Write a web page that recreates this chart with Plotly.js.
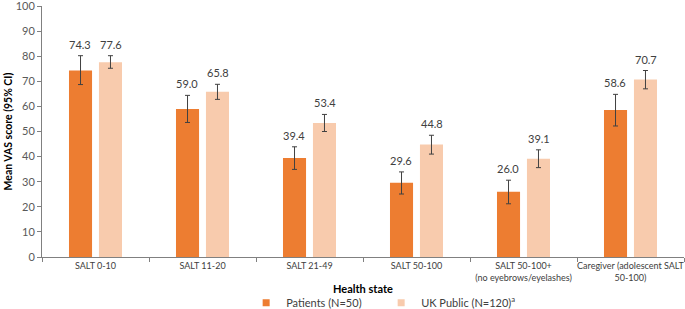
<!DOCTYPE html>
<html><head><meta charset="utf-8">
<script src="https://cdn.plot.ly/plotly-3.0.1.min.js"></script>
<style>body{margin:0;background:#fff}#c{width:685px;height:309px}</style>
</head><body><div id="c"></div>
<script>
const categories = ["SALT 0-10","SALT 11-20","SALT 21-49","SALT 50-100","SALT 50-100+<br>(no eyebrows/eyelashes)","Caregiver (adolescent SALT<br>50-100)"];
const patients = [74.3, 59.0, 39.4, 29.6, 26.0, 58.6];
const patientsPlus = [5.9, 5.4, 4.5, 4.3, 4.6, 6.2];
const patientsMinus = [5.6, 5.4, 4.5, 4.5, 4.8, 6.4];
const publicVals = [77.6, 65.8, 53.4, 44.8, 39.1, 70.7];
const publicPlus = [2.6, 3.0, 3.4, 3.7, 3.6, 3.6];
const publicMinus = [2.4, 3.0, 3.4, 3.8, 3.5, 3.7];
const seriesNames = ["Patients (N=50)", "UK Public (N=120)<sup>a</sup>"];
const yTicks = [0, 10, 20, 30, 40, 50, 60, 70, 80, 90, 100];
const colors = ['#ED7D31', '#F8CBAD'];

const font = "Lato, 'Open Sans', sans-serif";
const errStyle = {type:'data', symmetric:false, color:'#404040', thickness:1, width:2.5};
const traces = [
  {type:'bar', x:categories, y:patients, name:seriesNames[0], marker:{color:colors[0]}, showlegend:false,
   error_y:Object.assign({array:patientsPlus, arrayminus:patientsMinus}, errStyle)},
  {type:'bar', x:categories, y:publicVals, name:seriesNames[1], marker:{color:colors[1]}, showlegend:false,
   error_y:Object.assign({array:publicPlus, arrayminus:publicMinus}, errStyle)},
  {type:'scatter', mode:'markers', x:[null], y:[null], name:seriesNames[0], marker:{symbol:'square', size:7, color:colors[0]}},
  {type:'scatter', mode:'markers', x:[null], y:[null], name:seriesNames[1], marker:{symbol:'square', size:7, color:colors[1]}}
];
const annotations = [];
categories.forEach((c,i)=>{
  annotations.push({x:c, y:patients[i]+patientsPlus[i], xref:'x', yref:'y', text:patients[i].toFixed(1),
    showarrow:false, yanchor:'bottom', yshift:3, xshift:-15.5, font:{family:font,size:11,color:'#404040'}});
  annotations.push({x:c, y:publicVals[i]+publicPlus[i], xref:'x', yref:'y', text:publicVals[i].toFixed(1),
    showarrow:false, yanchor:'bottom', yshift:3, xshift:15.5, font:{family:font,size:11,color:'#404040'}});
});
annotations.push({text:'<b>Health state</b>', xref:'paper', yref:'paper', x:0.5, y:-0.127, yanchor:'middle',
  showarrow:false, font:{family:font,size:11,color:'#000'}});
annotations.push({text:'<b>Mean VAS score (95% CI)</b>', xref:'paper', yref:'paper', x:-0.053, y:0.5,
  xanchor:'center', yanchor:'middle', textangle:-90, showarrow:false, font:{family:font,size:10.5,color:'#000'}});

const layout = {
  width:685, height:309,
  margin:{l:42, r:1, t:6, b:52},
  paper_bgcolor:'#fff', plot_bgcolor:'#fff',
  font:{family:font, color:'#404040'},
  barmode:'group', bargap:0.44, bargroupgap:0.23,
  showlegend:true,
  legend:{orientation:'h', x:0.318, xanchor:'left', yref:'container', y:0.02, yanchor:'middle',
    font:{family:font, size:11, color:'#404040'}, itemwidth:30, entrywidth:90, entrywidthmode:'pixels',
    traceorder:'normal'},
  xaxis:{showline:true, linecolor:'#808080', linewidth:1, ticks:'outside', tickson:'boundaries',
    ticklen:4, tickcolor:'#808080', tickangle:0, tickfont:{family:font, size:9, color:'#404040'}, showgrid:false,
    zeroline:false, automargin:false},
  yaxis:{range:[0,100], tickmode:'array', tickvals:yTicks, ticktext:yTicks.map(String),
    ticklabeloverflow:'allow', showline:true, linecolor:'#808080', linewidth:1, ticks:'outside',
    ticklen:4, tickcolor:'#808080', tickfont:{family:font, size:11, color:'#595959'}, showgrid:false,
    zeroline:false, automargin:false},
  annotations:annotations
};
Plotly.newPlot('c', traces, layout, {displayModeBar:false, staticPlot:true});
</script></body></html>
